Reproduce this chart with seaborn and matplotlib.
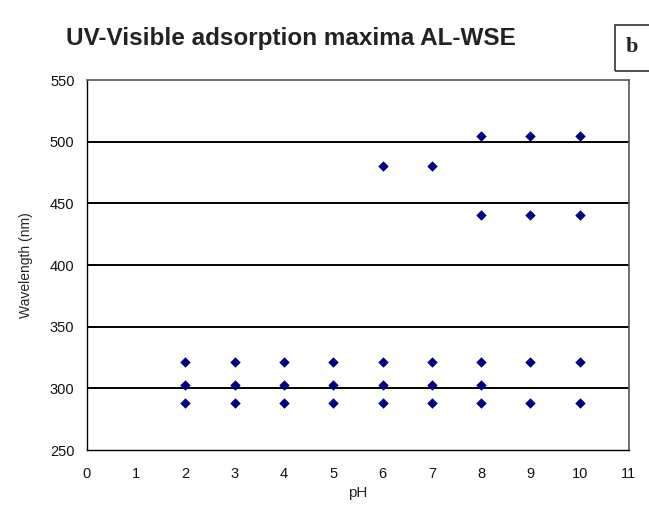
import matplotlib.pyplot as plt
import matplotlib.patches as patches
import pandas as pd
import seaborn as sns

# %% data
ph = [2, 2, 2, 3, 3, 3, 4, 4, 4, 5, 5, 5,
      6, 6, 6, 6, 7, 7, 7, 7,
      8, 8, 8, 8, 8,
      9, 9, 9, 9, 10, 10, 10, 10]
wavelength = [288, 303, 321, 288, 303, 321, 288, 303, 321, 288, 303, 321,
              288, 303, 321, 480, 288, 303, 321, 480,
              288, 303, 321, 441, 505,
              288, 321, 441, 505, 288, 321, 441, 505]

x_ticks = list(range(0, 12))
y_ticks = [250, 300, 350, 400, 450, 500, 550]

df = pd.DataFrame({"pH": ph, "wavelength": wavelength})

# %%
sns.set_style("white")
plt.rcParams["font.family"] = ["Liberation Sans", "DejaVu Sans"]

fig = plt.figure(figsize=(6.49, 5.14), dpi=100)
ax = fig.add_axes([0.134, 0.1245, 0.835, 0.7195])

sns.scatterplot(
    x="pH",
    y="wavelength",
    data=df,
    marker="D",
    color="#000080",
    edgecolor="#000080",
    s=24,
    ax=ax,
    zorder=3,
)

ax.set_xlim(0, 11)
ax.set_ylim(250, 550)
ax.set_xticks(x_ticks)
ax.set_yticks(y_ticks)
ax.tick_params(axis="both", labelsize=10.5, colors="#111111", length=4, width=1)
ax.tick_params(axis="x", direction="inout", length=6, pad=9)
ax.tick_params(axis="y", direction="out", pad=5)
for y in y_ticks[1:-1]:
    ax.axhline(y, color="black", lw=1.4, zorder=1)

for side in ["left", "bottom"]:
    ax.spines[side].set_color("black")
    ax.spines[side].set_linewidth(1.0)
for side in ["top", "right"]:
    ax.spines[side].set_color("#555555")
    ax.spines[side].set_linewidth(1.2)

ax.set_xlabel("pH", fontsize=11, labelpad=4)
ax.set_ylabel("Wavelength (nm)", fontsize=10, labelpad=12)

fig.text(66 / 649, 1 - 38 / 514, "UV-Visible adsorption maxima AL-WSE",
         fontsize=17.5, fontweight="bold", ha="left", va="center",
         color="#222222")

box = patches.Rectangle((615 / 649, 1 - 71 / 514), 40 / 649, 46 / 514,
                        transform=fig.transFigure, fill=False,
                        edgecolor="#333333", lw=1.2, clip_on=False)
fig.patches.append(box)
fig.text(632 / 649, 1 - 47 / 514, "b", fontsize=16, fontweight="bold",
         family="Liberation Serif", ha="center", va="center")

plt.savefig("out.png", dpi=100)
